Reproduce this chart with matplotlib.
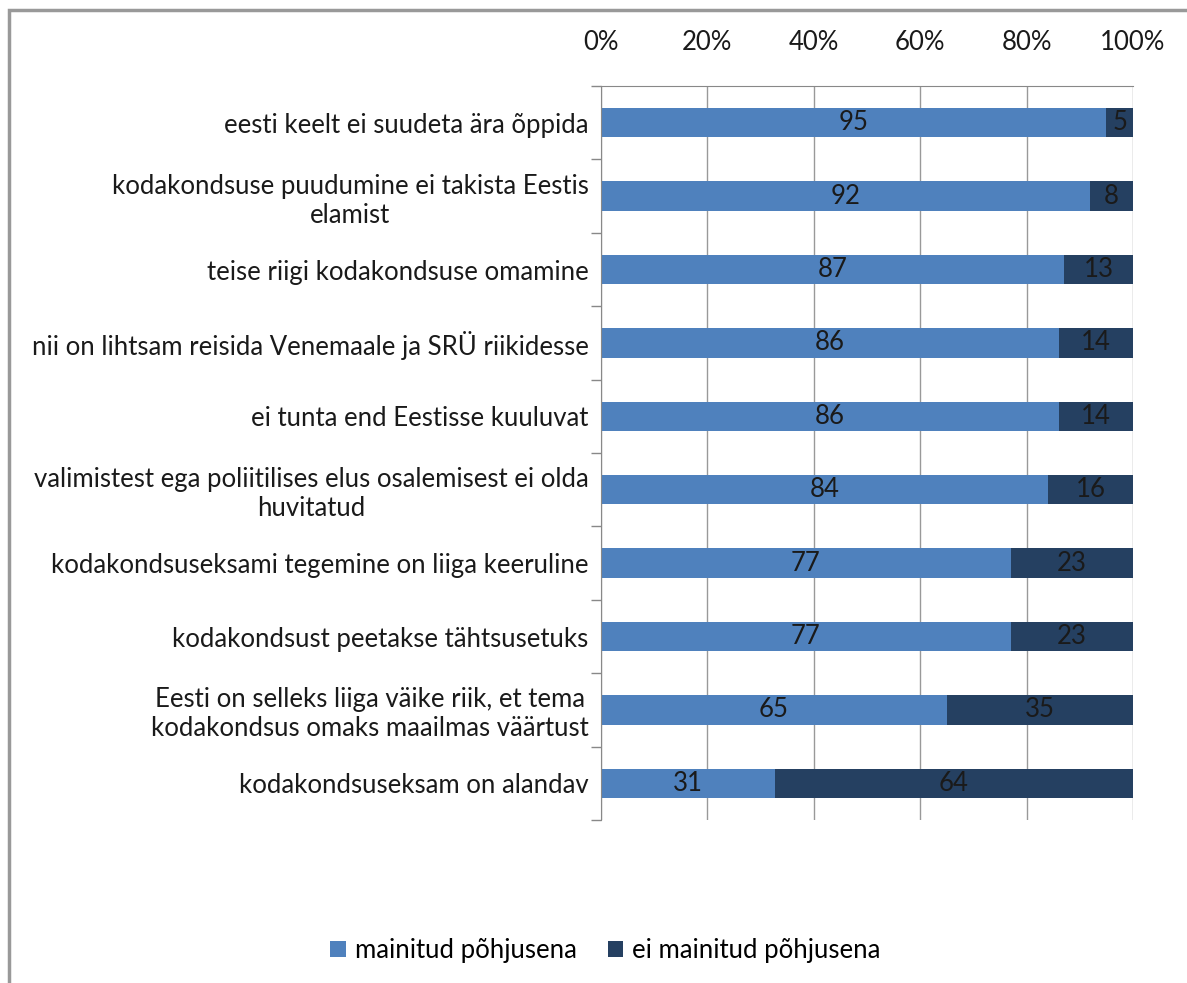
import numpy as np
import matplotlib as mpl
mpl.use('Agg')
import matplotlib.pyplot as plt
from matplotlib.patches import Rectangle

categories = [
    'eesti keelt ei suudeta ära õppida',
    'kodakondsuse puudumine ei takista Eestis\nelamist',
    'teise riigi kodakondsuse omamine',
    'nii on lihtsam reisida Venemaale ja SRÜ riikidesse',
    'ei tunta end Eestisse kuuluvat',
    'valimistest ega poliitilises elus osalemisest ei olda\nhuvitatud',
    'kodakondsuseksami tegemine on liiga keeruline',
    'kodakondsust peetakse tähtsusetuks',
    'Eesti on selleks liiga väike riik, et tema\nkodakondsus omaks maailmas väärtust',
    'kodakondsuseksam on alandav',
]
mentioned = [95, 92, 87, 86, 86, 84, 77, 77, 65, 31]
not_mentioned = [5, 8, 13, 14, 14, 16, 23, 23, 35, 64]
series_names = ['mainitud põhjusena', 'ei mainitud põhjusena']
xticks = [0, 20, 40, 60, 80, 100]

plt.rcParams['font.family'] = ['Lato', 'DejaVu Sans']
fs = 18.5

a = np.array(mentioned, dtype=float)
b = np.array(not_mentioned, dtype=float)
tot = a + b
pa = a / tot * 100
pb = b / tot * 100
y = np.arange(len(categories))

fig = plt.figure(figsize=(11.87, 9.83), dpi=100)
ax = fig.add_axes([0.5063, 0.1658, 0.4482, 0.7467])

c1 = '#4F81BD'
c2 = '#254061'
bars1 = ax.barh(y, pa, height=0.4, color=c1, label=series_names[0], zorder=2)
bars2 = ax.barh(y, pb, left=pa, height=0.4, color=c2, label=series_names[1], zorder=2)

for i in range(len(y)):
    ax.text(pa[i] / 2, y[i], str(mentioned[i]), ha='center', va='center', fontsize=fs, color='#1a1a1a', zorder=3)
    ax.text(pa[i] + pb[i] / 2, y[i], str(not_mentioned[i]), ha='center', va='center', fontsize=fs, color='#1a1a1a', zorder=3)

ax.set_xlim(0, 100)
ax.set_ylim(len(categories) - 0.5, -0.5)
ax.xaxis.tick_top()
ax.set_xticks(xticks)
ax.set_xticklabels(['%d%%' % t for t in xticks], fontsize=fs, color='#1a1a1a')
ax.tick_params(axis='x', length=0, pad=22)
ax.grid(axis='x', color='#999999', linewidth=1, zorder=0)

ax.set_yticks(y)
ax.set_yticklabels(categories, fontsize=fs, color='#1a1a1a', multialignment='center')
ax.tick_params(axis='y', which='major', length=0, pad=9)
ax.set_yticks(np.arange(-0.5, len(categories) + 0.5, 1), minor=True)
ax.tick_params(axis='y', which='minor', length=7, color='#888888', width=1)

for s in ['right', 'bottom']:
    ax.spines[s].set_visible(False)
for s in ['top', 'left']:
    ax.spines[s].set_color('#888888')

fig.legend(handles=[bars1, bars2], labels=series_names, loc='center', bbox_to_anchor=(0.51, 0.033),
           ncol=2, frameon=False, fontsize=fs, handlelength=0.6, handleheight=0.6, columnspacing=1.2,
           handletextpad=0.35)

fig.patches.append(Rectangle((0.0075, -0.01), 1.1, 1.0, transform=fig.transFigure,
                             fill=False, edgecolor='#999999', linewidth=2.5))

fig.savefig('out.png', dpi=100)
